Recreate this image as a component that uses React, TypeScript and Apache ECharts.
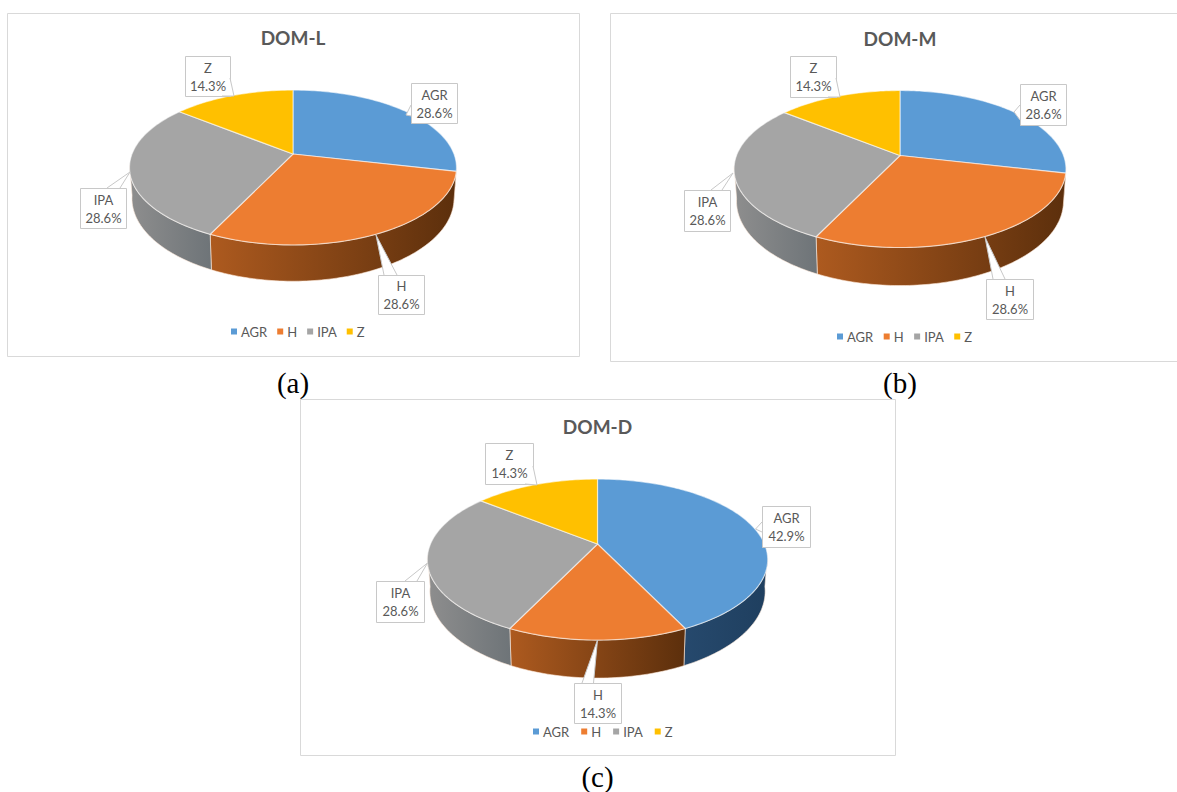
import React, { useEffect, useRef } from "react";
import * as echarts from "echarts";

const categories = ["AGR", "H", "IPA", "Z"];
const domL = [28.6, 28.6, 28.6, 14.3];
const domM = [28.6, 28.6, 28.6, 14.3];
const domD = [42.9, 14.3, 28.6, 14.3];

const topColors = ["#5B9BD5", "#ED7D31", "#A5A5A5", "#FFC000"];
// Shaded rim colours, left to right across each slice.
const rimColors = [
  ["#26496d", "#1f3f5f"],
  ["#ad5a1f", "#5c2f0c"],
  ["#8e8e8e", "#6e7478"],
  ["#a87f00", "#7a5c00"],
];

const W = 1177;
const H = 792;

type Box = [number, number, number, number];
type Wedge = number[][];

const panels = [
  {
    title: "DOM-L", caption: "(a)", values: domL,
    frame: [7.5, 13.5, 572, 343], titleY: 28, captionY: 368,
    legendX: 231, legendY: 325, legendGap: 10,
    pie: { cx: 293, cy: 154, a: 161, b: 75.1, p: 0.174, d: 30 },
    boxes: [[411, 83, 46, 40], [378, 275, 46, 39], [80, 188, 46, 40], [185, 56, 45, 40]] as Box[],
    wedges: [
      [[411, 105], [406, 115], [411, 116]],
      [[384, 275], [376, 235], [397, 275]],
      [[107, 188], [130, 172], [120, 188]],
      [[230, 78], [234, 96], [222, 96]],
    ] as Wedge[],
  },
  {
    title: "DOM-M", caption: "(b)", values: domM,
    frame: [610.5, 13.5, 580, 348], titleY: 29, captionY: 368,
    legendX: 837, legendY: 330, legendGap: 10.5,
    pie: { cx: 900, cy: 155.5, a: 163.5, b: 76.2, p: 0.172, d: 31.5 },
    boxes: [[1020, 84, 46, 41], [986, 279, 47, 40], [684, 190, 46, 41], [790, 56, 46, 41]] as Box[],
    wedges: [
      [[1020, 105], [1014, 112], [1020, 120]],
      [[993, 279], [985, 237], [1005, 279]],
      [[711, 190], [733, 173], [722, 190]],
      [[836, 78], [840, 97], [828, 97]],
    ] as Wedge[],
  },
  {
    title: "DOM-D", caption: "(c)", values: domD,
    frame: [300.5, 399.5, 595, 356], titleY: 417, captionY: 762,
    legendX: 533, legendY: 725, legendGap: 12,
    pie: { cx: 597.5, cy: 544, a: 167, b: 77.5, p: 0.193, d: 30.7 },
    boxes: [[762, 506, 48, 41], [574, 683, 47, 40], [376, 581, 48, 41], [485, 443, 48, 41]] as Box[],
    wedges: [
      [[762, 522], [755.6, 529], [762, 532]],
      [[582, 683], [597.5, 640], [593.5, 683]],
      [[405, 581], [427.5, 563], [417, 581]],
      [[533, 466], [537, 485], [525, 484]],
    ] as Wedge[],
  },
];

const FONT = "Lato";
const INK = "#595959";
const CALLOUT_EDGE = "#c8c8c8";

type Pie = { cx: number; cy: number; a: number; b: number; p: number; d: number };

// Point on the tilted disc rim; t is clockwise from twelve o'clock, in radians.
function rim(pie: Pie, t: number, lower = false) {
  const u = Math.sin(t);
  const v = Math.cos(t);
  const w = 1 + pie.p * v;
  const x = (pie.a * u) / w;
  const y = (-pie.b * v) / w;
  if (!lower) return [pie.cx + x, pie.cy + y];
  return [pie.cx + x * 0.985, pie.cy + y + pie.d / w];
}

function sweep(from: number, to: number) {
  const steps = Math.max(2, Math.ceil(Math.abs(to - from) / 0.02));
  const out: number[] = [];
  for (let i = 0; i <= steps; i++) out.push(from + ((to - from) * i) / steps);
  return out;
}

function makeSeries(panel: (typeof panels)[number], idx: number) {
  const total = panel.values.reduce((s, v) => s + v, 0);
  const before = panel.values.slice(0, idx).reduce((s, v) => s + v, 0);
  const pie = panel.pie;
  const box = panel.boxes[idx];
  const wedge = panel.wedges[idx];
  const name = categories[idx];

  return {
    type: "custom",
    name,
    coordinateSystem: "none",
    silent: true,
    itemStyle: { color: topColors[idx] },
    data: [[panel.values[idx]]],
    renderItem: (_params: unknown, api: any) => {
      const value = api.value(0) as number;
      const t0 = (before / total) * Math.PI * 2;
      const t1 = ((before + value) / total) * Math.PI * 2;
      const children: any[] = [];

      // Only the part of the rim that faces the viewer has a visible wall.
      const wallFrom = Math.max(t0, (98 / 180) * Math.PI);
      const wallTo = Math.min(t1, (262 / 180) * Math.PI);
      if (wallTo > wallFrom) {
        const angles = sweep(wallFrom, wallTo);
        const points = [
          ...angles.map((t) => rim(pie, t)),
          ...angles.slice().reverse().map((t) => rim(pie, t, true)),
        ];
        const xs = points.map((q) => q[0]);
        children.push({
          type: "polygon",
          z2: 1,
          shape: { points },
          style: {
            fill: new echarts.graphic.LinearGradient(
              Math.min(...xs), 0, Math.max(...xs), 0,
              [
                { offset: 0, color: rimColors[idx][0] },
                { offset: 1, color: rimColors[idx][1] },
              ],
              true,
            ),
            stroke: "rgba(255,235,220,0.6)",
            lineWidth: 1,
          },
        });
      }

      children.push({
        type: "polygon",
        z2: 2,
        shape: { points: [[pie.cx, pie.cy], ...sweep(t0, t1).map((t) => rim(pie, t))] },
        style: { fill: topColors[idx], stroke: "rgba(255,255,255,0.55)", lineWidth: 1.2 },
      });

      // Callout: white box, then a pointer whose fill opens the box edge.
      const [bx, by, bw, bh] = box;
      children.push({
        type: "rect",
        z2: 10,
        shape: { x: bx + 0.5, y: by + 0.5, width: bw, height: bh },
        style: { fill: "#ffffff", stroke: CALLOUT_EDGE, lineWidth: 1 },
      });
      children.push({
        type: "polygon",
        z2: 11,
        shape: { points: wedge },
        style: { fill: "#ffffff" },
      });
      children.push({
        type: "polyline",
        z2: 12,
        shape: { points: wedge },
        style: { fill: "none", stroke: CALLOUT_EDGE, lineWidth: 1 },
      });
      children.push({
        type: "text",
        z2: 13,
        style: {
          x: bx + bw / 2 + 0.5,
          y: by + bh / 2 + 0.5,
          text: `${name}\n${value.toFixed(1)}%`,
          align: "center",
          verticalAlign: "middle",
          fontFamily: FONT,
          fontSize: 13,
          lineHeight: 18,
          fill: INK,
        },
      });

      return { type: "group", children };
    },
  };
}

export default function App() {
  const ref = useRef<HTMLDivElement>(null);

  useEffect(() => {
    if (!ref.current) return;
    const chart = echarts.init(ref.current, undefined, { renderer: "svg" });
    chart.setOption({
      animation: false,
      backgroundColor: "#ffffff",
      title: [
        ...panels.map((p) => ({
          text: p.title,
          left: p.pie.cx,
          top: p.titleY,
          padding: 0,
          textAlign: "center",
          textStyle: { fontFamily: FONT, fontSize: 19, fontWeight: "bold", color: INK },
        })),
        ...panels.map((p) => ({
          text: p.caption,
          left: p.pie.cx,
          top: p.captionY,
          padding: 0,
          textAlign: "center",
          textStyle: { fontFamily: "Liberation Serif", fontSize: 29, fontWeight: "normal", color: "#000000" },
        })),
      ],
      legend: panels.map((p) => ({
        data: categories,
        left: p.legendX,
        top: p.legendY,
        orient: "horizontal",
        icon: "rect",
        itemWidth: 6,
        itemHeight: 6,
        itemGap: p.legendGap,
        selectedMode: false,
        padding: 0,
        textStyle: { fontFamily: FONT, fontSize: 13, color: INK, padding: [0, 0, 0, -1] },
      })),
      graphic: panels.map((p) => ({
        type: "rect",
        z: 0,
        silent: true,
        shape: { x: p.frame[0], y: p.frame[1], width: p.frame[2], height: p.frame[3] },
        style: { fill: "#ffffff", stroke: "#d9d9d9", lineWidth: 1 },
      })),
      series: panels.flatMap((p) => categories.map((_c, i) => makeSeries(p, i))),
    });
    return () => chart.dispose();
  }, []);

  return (
    <div
      ref={ref}
      style={{ position: "fixed", left: 0, top: 0, width: W, height: H }}
    />
  );
}
